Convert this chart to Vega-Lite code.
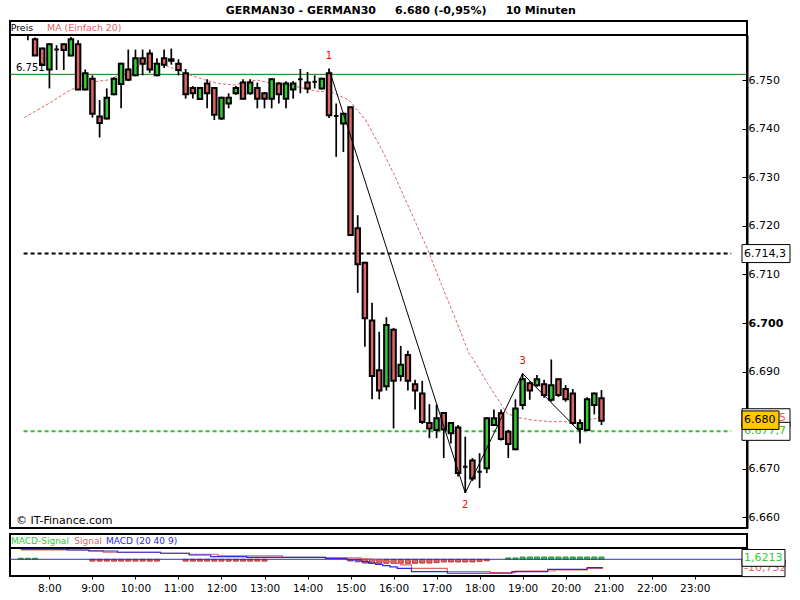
{
  "$schema": "https://vega.github.io/schema/vega-lite/v6.json",
  "background": "white",
  "padding": {"left": 8, "top": 5, "right": 0, "bottom": 0},
  "title": {"text": "GERMAN30 - GERMAN30 \u00a0\u00a0\u00a0 6.680 (-0,95%) \u00a0\u00a0\u00a0 10 Minuten", "font": "DejaVu Sans", "fontSize": 11, "fontWeight": "bold", "color": "black", "anchor": "middle", "offset": 4},
  "config": {"font": "DejaVu Sans", "view": {"stroke": "black", "strokeWidth": 2}},
  "datasets": {
    "candles": [
      {"t":450,"o":6761.0,"h":6762.5,"l":6758.2,"c":6760.0},
      {"t":460,"o":6758.4,"h":6758.8,"l":6755.0,"c":6755.1},
      {"t":470,"o":6756.5,"h":6756.7,"l":6752.9,"c":6753.1},
      {"t":480,"o":6752.2,"h":6757.6,"l":6748.3,"c":6757.4},
      {"t":490,"o":6756.3,"h":6757.2,"l":6752.1,"c":6756.3},
      {"t":500,"o":6757.4,"h":6757.6,"l":6752.1,"c":6756.2},
      {"t":510,"o":6755.1,"h":6758.9,"l":6754.9,"c":6758.4},
      {"t":520,"o":6757.4,"h":6758.2,"l":6747.9,"c":6748.1},
      {"t":530,"o":6748.1,"h":6752.2,"l":6747.9,"c":6751.4},
      {"t":540,"o":6750.3,"h":6751.0,"l":6742.3,"c":6743.1},
      {"t":550,"o":6742.5,"h":6745.9,"l":6738.2,"c":6741.2},
      {"t":560,"o":6742.1,"h":6748.3,"l":6741.9,"c":6746.4},
      {"t":570,"o":6747.1,"h":6750.6,"l":6746.9,"c":6750.3},
      {"t":580,"o":6749.2,"h":6753.6,"l":6744.2,"c":6753.4},
      {"t":590,"o":6752.2,"h":6756.3,"l":6749.8,"c":6750.1},
      {"t":600,"o":6751.0,"h":6756.3,"l":6750.8,"c":6754.5},
      {"t":610,"o":6754.5,"h":6756.3,"l":6751.0,"c":6753.4},
      {"t":620,"o":6755.5,"h":6756.3,"l":6751.5,"c":6752.2},
      {"t":630,"o":6751.0,"h":6754.5,"l":6750.8,"c":6753.4},
      {"t":640,"o":6754.5,"h":6756.3,"l":6752.5,"c":6753.2},
      {"t":650,"o":6754.3,"h":6756.5,"l":6753.2,"c":6754.0},
      {"t":660,"o":6753.4,"h":6754.3,"l":6751.0,"c":6752.1},
      {"t":670,"o":6751.4,"h":6752.3,"l":6746.2,"c":6747.1},
      {"t":680,"o":6748.4,"h":6748.8,"l":6746.2,"c":6747.3},
      {"t":690,"o":6746.1,"h":6748.6,"l":6745.9,"c":6748.4},
      {"t":700,"o":6749.3,"h":6750.2,"l":6744.2,"c":6747.3},
      {"t":710,"o":6748.4,"h":6748.6,"l":6741.8,"c":6742.9},
      {"t":720,"o":6742.1,"h":6746.6,"l":6741.8,"c":6746.4},
      {"t":730,"o":6745.2,"h":6747.3,"l":6744.2,"c":6746.4},
      {"t":740,"o":6747.3,"h":6748.8,"l":6747.0,"c":6748.4},
      {"t":750,"o":6749.5,"h":6750.2,"l":6746.0,"c":6746.2},
      {"t":760,"o":6747.3,"h":6750.2,"l":6747.0,"c":6749.5},
      {"t":770,"o":6748.4,"h":6749.5,"l":6744.2,"c":6746.2},
      {"t":780,"o":6747.3,"h":6747.5,"l":6744.2,"c":6746.2},
      {"t":790,"o":6746.2,"h":6750.4,"l":6744.2,"c":6750.2},
      {"t":800,"o":6749.3,"h":6749.6,"l":6745.2,"c":6747.1},
      {"t":810,"o":6746.2,"h":6749.8,"l":6744.2,"c":6749.3},
      {"t":820,"o":6748.1,"h":6749.8,"l":6746.2,"c":6749.3},
      {"t":830,"o":6750.2,"h":6752.3,"l":6747.3,"c":6750.2},
      {"t":840,"o":6749.5,"h":6751.7,"l":6747.3,"c":6748.3},
      {"t":850,"o":6749.7,"h":6751.0,"l":6748.3,"c":6749.7},
      {"t":860,"o":6748.3,"h":6750.5,"l":6748.1,"c":6750.3},
      {"t":870,"o":6751.4,"h":6752.4,"l":6742.2,"c":6742.8},
      {"t":880,"o":6742.6,"h":6745.2,"l":6734.2,"c":6742.6},
      {"t":890,"o":6741.1,"h":6743.3,"l":6735.2,"c":6743.1},
      {"t":900,"o":6744.4,"h":6744.5,"l":6717.9,"c":6718.1},
      {"t":910,"o":6719.5,"h":6722.2,"l":6706.2,"c":6712.1},
      {"t":920,"o":6712.4,"h":6712.6,"l":6695.1,"c":6701.0},
      {"t":930,"o":6700.5,"h":6704.2,"l":6684.3,"c":6689.1},
      {"t":940,"o":6690.3,"h":6698.2,"l":6684.3,"c":6686.1},
      {"t":950,"o":6687.0,"h":6701.2,"l":6686.1,"c":6699.6},
      {"t":960,"o":6698.6,"h":6699.0,"l":6678.3,"c":6688.1},
      {"t":970,"o":6689.1,"h":6695.3,"l":6688.0,"c":6691.4},
      {"t":980,"o":6693.4,"h":6694.3,"l":6686.1,"c":6688.1},
      {"t":990,"o":6687.4,"h":6688.3,"l":6682.2,"c":6686.1},
      {"t":1000,"o":6685.5,"h":6688.1,"l":6679.2,"c":6679.6},
      {"t":1010,"o":6679.4,"h":6683.3,"l":6676.3,"c":6678.3},
      {"t":1020,"o":6678.0,"h":6683.2,"l":6676.3,"c":6680.4},
      {"t":1030,"o":6681.5,"h":6681.7,"l":6672.2,"c":6678.1},
      {"t":1040,"o":6677.3,"h":6679.6,"l":6675.2,"c":6679.4},
      {"t":1050,"o":6678.5,"h":6679.0,"l":6668.4,"c":6669.1},
      {"t":1060,"o":6670.4,"h":6676.6,"l":6665.0,"c":6670.4},
      {"t":1070,"o":6671.7,"h":6672.2,"l":6667.5,"c":6668.0},
      {"t":1080,"o":6669.4,"h":6673.2,"l":6666.0,"c":6669.4},
      {"t":1090,"o":6670.1,"h":6680.6,"l":6669.1,"c":6680.4},
      {"t":1100,"o":6679.0,"h":6682.2,"l":6678.8,"c":6680.4},
      {"t":1110,"o":6681.4,"h":6682.2,"l":6675.8,"c":6676.1},
      {"t":1120,"o":6677.6,"h":6678.0,"l":6672.2,"c":6675.1},
      {"t":1130,"o":6674.0,"h":6684.3,"l":6673.8,"c":6682.4},
      {"t":1140,"o":6683.1,"h":6689.6,"l":6682.2,"c":6688.4},
      {"t":1150,"o":6687.6,"h":6688.0,"l":6684.2,"c":6686.1},
      {"t":1160,"o":6687.2,"h":6689.3,"l":6686.9,"c":6688.4},
      {"t":1170,"o":6687.4,"h":6688.3,"l":6684.6,"c":6685.2},
      {"t":1180,"o":6684.2,"h":6692.5,"l":6683.8,"c":6687.2},
      {"t":1190,"o":6688.4,"h":6688.6,"l":6684.8,"c":6685.2},
      {"t":1200,"o":6686.4,"h":6687.2,"l":6683.8,"c":6684.3},
      {"t":1210,"o":6685.5,"h":6686.4,"l":6679.0,"c":6679.4},
      {"t":1220,"o":6678.2,"h":6680.2,"l":6675.2,"c":6679.4},
      {"t":1230,"o":6678.0,"h":6684.7,"l":6677.8,"c":6684.3},
      {"t":1240,"o":6683.1,"h":6685.7,"l":6681.2,"c":6685.5},
      {"t":1250,"o":6684.5,"h":6686.2,"l":6679.0,"c":6679.9}
    ],
    "ma": [
      {"t":445,"p":6742.3},{"t":478,"p":6745.1},{"t":505,"p":6747.6},{"t":517,"p":6748.5},
      {"t":538,"p":6749.6},{"t":565,"p":6750.1},{"t":588,"p":6752.2},{"t":615,"p":6753.4},
      {"t":634,"p":6753.4},{"t":657,"p":6752.2},{"t":674,"p":6751.2},{"t":698,"p":6750.0},
      {"t":716,"p":6749.3},{"t":739,"p":6749.0},{"t":753,"p":6749.7},{"t":771,"p":6750.0},
      {"t":790,"p":6749.3},{"t":813,"p":6749.0},{"t":836,"p":6748.3},{"t":854,"p":6747.7},
      {"t":872,"p":6747.6},{"t":898,"p":6745.9},{"t":921,"p":6741.8},{"t":944,"p":6735.6},
      {"t":960,"p":6730.8},{"t":985,"p":6722.6},{"t":1008,"p":6715.0},{"t":1026,"p":6708.2},
      {"t":1049,"p":6699.9},{"t":1065,"p":6693.8},{"t":1072,"p":6692.4},{"t":1091,"p":6687.6},
      {"t":1109,"p":6683.5},{"t":1118,"p":6681.4},{"t":1132,"p":6680.6},{"t":1155,"p":6680.0},
      {"t":1178,"p":6679.7},{"t":1201,"p":6679.7},{"t":1219,"p":6679.8},{"t":1237,"p":6680.2},
      {"t":1251,"p":6680.6}
    ],
    "zig": [
      {"t":870,"p":6752.3,"lab":"1"},
      {"t":1060,"p":6665.0,"lab":"2"},
      {"t":1140,"p":6689.6,"lab":"3"},
      {"t":1220,"p":6677.6,"lab":""}
    ],
    "levels": [
      {"name":"res","p":6751.2,"label":"6.751"},
      {"name":"mid","p":6714.3,"label":"6.714,3"},
      {"name":"sup","p":6677.7,"label":"6.677,7"}
    ],
    "last": [
      {"name":"ma","p":6680.5,"label":"6.680,5"},
      {"name":"price","p":6680.0,"label":"6.680"}
    ],
    "macd": [
      {"t":440,"v":12.0},{"t":505,"v":11.1},{"t":535,"v":9.9},{"t":575,"v":8.4},
      {"t":635,"v":7.2},{"t":675,"v":5.1},{"t":705,"v":3.1},{"t":755,"v":2.4},
      {"t":865,"v":1.2},{"t":895,"v":-0.8},{"t":915,"v":-2.9},{"t":925,"v":-4.5},
      {"t":935,"v":-6.0},{"t":945,"v":-7.5},{"t":955,"v":-9.0},{"t":965,"v":-10.8},
      {"t":985,"v":-14.8},{"t":1035,"v":-16.7},{"t":1125,"v":-14.8},{"t":1175,"v":-12.0},
      {"t":1230,"v":-10.0},{"t":1252,"v":-10.0}
    ],
    "signal": [
      {"t":440,"v":11.1},{"t":535,"v":10.3},{"t":555,"v":8.4},{"t":635,"v":7.2},
      {"t":675,"v":6.0},{"t":715,"v":4.0},{"t":805,"v":2.4},{"t":865,"v":1.6},
      {"t":915,"v":0.5},{"t":930,"v":-1.0},{"t":945,"v":-3.0},{"t":960,"v":-5.0},
      {"t":970,"v":-6.8},{"t":985,"v":-10.8},{"t":1035,"v":-14.8},{"t":1095,"v":-16.0},
      {"t":1130,"v":-14.0},{"t":1185,"v":-12.8},{"t":1230,"v":-10.8},{"t":1252,"v":-10.8}
    ],
    "hist": [
      {"t":440,"h":1.2},{"t":450,"h":1.2},{"t":460,"h":1.2},
      {"t":540,"h":-2.2},{"t":550,"h":-2.2},{"t":560,"h":-2.2},{"t":570,"h":-2.2},{"t":580,"h":-2.2},
      {"t":590,"h":-2.2},{"t":600,"h":-2.2},{"t":610,"h":-2.2},{"t":620,"h":-2.2},{"t":630,"h":-2.2},
      {"t":670,"h":-2.2},{"t":680,"h":-2.2},{"t":690,"h":-2.2},{"t":700,"h":-2.2},{"t":710,"h":-2.2},
      {"t":720,"h":-2.2},{"t":730,"h":-2.2},{"t":740,"h":-2.2},{"t":750,"h":-2.2},{"t":760,"h":-2.2},
      {"t":770,"h":-2.2},{"t":780,"h":-2.2},
      {"t":900,"h":-2.0},{"t":910,"h":-3.0},{"t":920,"h":-4.5},{"t":930,"h":-4.8},{"t":940,"h":-4.8},
      {"t":950,"h":-4.8},{"t":960,"h":-4.8},{"t":970,"h":-4.8},{"t":980,"h":-4.8},{"t":990,"h":-4.8},
      {"t":1000,"h":-4.5},{"t":1010,"h":-4.5},{"t":1020,"h":-4.0},{"t":1030,"h":-3.2},{"t":1040,"h":-3.2},
      {"t":1050,"h":-3.2},{"t":1060,"h":-3.2},{"t":1070,"h":-3.2},{"t":1080,"h":-2.5},{"t":1090,"h":-1.8},
      {"t":1120,"h":1.6},{"t":1130,"h":1.6},{"t":1140,"h":2.7},{"t":1150,"h":2.7},{"t":1160,"h":2.7},
      {"t":1170,"h":2.7},{"t":1180,"h":2.7},{"t":1190,"h":2.7},{"t":1200,"h":2.7},{"t":1210,"h":2.7},
      {"t":1220,"h":2.7},{"t":1230,"h":2.7},{"t":1240,"h":2.7},{"t":1250,"h":2.7}
    ],
    "macdlast": [
      {"name":"signal","v":-10.752,"label":"-10,752"},
      {"name":"hist","v":1.6213,"label":"1,6213"}
    ]
  },
  "spacing": 4,
  "vconcat": [
    {
      "bounds": "flush",
      "spacing": 0,
      "vconcat": [
        {
          "width": 737, "height": 14,
          "data": {"values": [{}]},
          "layer": [
            {"mark": {"type": "text", "text": "Preis", "align": "left", "baseline": "middle", "fontSize": 9.4, "color": "black"},
             "encoding": {"x": {"datum": 433, "type": "quantitative", "scale": {"domain": [432, 1446], "nice": false, "zero": false}, "axis": null}}},
            {"mark": {"type": "text", "text": "MA (Einfach 20)", "align": "left", "baseline": "middle", "fontSize": 9.4, "color": "#e06666"},
             "encoding": {"x": {"datum": 483, "type": "quantitative", "axis": null}}}
          ]
        },
        {
          "width": 737, "height": 493,
          "layer": [
            {
              "data": {"name": "levels"},
              "transform": [{"filter": "datum.name == 'res'"}],
              "mark": {"type": "rule", "color": "#008000", "strokeWidth": 1},
              "encoding": {
                "y": {"field": "p", "type": "quantitative",
                      "scale": {"domain": [6657.8, 6759.3], "nice": false, "zero": false},
                      "axis": {"orient": "right", "values": [6660, 6670, 6680, 6690, 6700, 6710, 6720, 6730, 6740, 6750],
                               "labelExpr": "replace(format(datum.value, ','), ',', '.')",
                               "title": null, "grid": false, "domain": true, "domainColor": "black", "domainWidth": 2,
                               "ticks": true, "tickSize": -5, "tickColor": "black", "tickWidth": 1,
                               "labelPadding": 6, "labelFontSize": 11, "labelColor": "black",
                               "labelFontWeight": {"condition": {"test": "datum.value == 6700", "value": "bold"}, "value": "normal"},
                               "labelFlush": false, "labelOverlap": false}}
              }
            },
            {
              "data": {"name": "levels"},
              "transform": [{"filter": "datum.name != 'res'"}],
              "mark": {"type": "rule", "strokeWidth": 2, "strokeDash": [4, 3]},
              "encoding": {
                "y": {"field": "p", "type": "quantitative"},
                "x": {"datum": 444, "type": "quantitative", "scale": {"domain": [432, 1446], "nice": false, "zero": false}, "axis": null},
                "x2": {"datum": 1431},
                "stroke": {"condition": {"test": "datum.name == 'mid'", "value": "black"}, "value": "#33bb33"}
              }
            },
            {
              "data": {"name": "ma"},
              "mark": {"type": "line", "color": "#e06666", "strokeWidth": 1, "strokeDash": [3, 2]},
              "encoding": {
                "x": {"field": "t", "type": "quantitative", "axis": null},
                "y": {"field": "p", "type": "quantitative"}
              }
            },
            {
              "data": {"name": "candles"},
              "mark": {"type": "rule", "color": "black", "strokeWidth": 1.7, "clip": true},
              "encoding": {
                "x": {"field": "t", "type": "quantitative", "axis": null},
                "y": {"field": "l", "type": "quantitative"},
                "y2": {"field": "h"}
              }
            },
            {
              "data": {"name": "candles"},
              "mark": {"type": "bar", "width": 4.5, "stroke": "black", "strokeWidth": 2, "clip": true},
              "encoding": {
                "x": {"field": "t", "type": "quantitative", "axis": null},
                "y": {"field": "o", "type": "quantitative"},
                "y2": {"field": "c"},
                "fill": {"condition": {"test": "datum.c >= datum.o", "value": "#33cc33"}, "value": "#e06666"}
              }
            },
            {
              "data": {"name": "zig"},
              "mark": {"type": "line", "color": "black", "strokeWidth": 1},
              "encoding": {
                "x": {"field": "t", "type": "quantitative", "axis": null},
                "y": {"field": "p", "type": "quantitative"}
              }
            },
            {
              "data": {"name": "zig"},
              "transform": [{"filter": "datum.lab == '1' || datum.lab == '3'"}],
              "mark": {"type": "text", "color": "#ff0000", "fontSize": 10, "baseline": "middle", "dy": -13},
              "encoding": {
                "x": {"field": "t", "type": "quantitative", "axis": null},
                "y": {"field": "p", "type": "quantitative"},
                "text": {"field": "lab"}
              }
            },
            {
              "data": {"name": "zig"},
              "transform": [{"filter": "datum.lab == '2'"}],
              "mark": {"type": "text", "color": "#ff0000", "fontSize": 10, "baseline": "middle", "dy": 12},
              "encoding": {
                "x": {"field": "t", "type": "quantitative", "axis": null},
                "y": {"field": "p", "type": "quantitative"},
                "text": {"field": "lab"}
              }
            },
            {
              "data": {"name": "levels"},
              "transform": [{"filter": "datum.name == 'res'"}],
              "mark": {"type": "text", "align": "left", "baseline": "bottom", "dx": 1, "dy": -1, "fontSize": 10, "color": "black"},
              "encoding": {
                "x": {"datum": 432, "type": "quantitative", "axis": null},
                "y": {"field": "p", "type": "quantitative"},
                "text": {"field": "label"}
              }
            },
            {
              "data": {"values": [{"txt": "\u00a9 IT-Finance.com"}]},
              "mark": {"type": "text", "align": "left", "baseline": "bottom", "dx": 1, "dy": -2, "fontSize": 11, "color": "black"},
              "encoding": {
                "x": {"datum": 432, "type": "quantitative", "axis": null},
                "y": {"datum": 6657.8, "type": "quantitative"},
                "text": {"field": "txt"}
              }
            },
            {
              "data": {"name": "last"},
              "transform": [{"filter": "datum.name == 'ma'"}],
              "mark": {"type": "point", "shape": "M0,-0.375L2,-0.375L2,0.375L0,0.375Z", "size": 2304, "filled": true, "fill": "white", "stroke": "black", "strokeWidth": 1, "opacity": 1, "clip": false},
              "encoding": {
                "x": {"datum": 1446, "type": "quantitative", "axis": null},
                "y": {"field": "p", "type": "quantitative"}
              }
            },
            {
              "data": {"name": "last"},
              "transform": [{"filter": "datum.name == 'ma'"}],
              "mark": {"type": "text", "align": "left", "baseline": "middle", "dx": 2, "fontSize": 11, "color": "#e06666"},
              "encoding": {
                "x": {"datum": 1446, "type": "quantitative", "axis": null},
                "y": {"field": "p", "type": "quantitative"},
                "text": {"field": "label"}
              }
            },
            {
              "data": {"name": "levels"},
              "transform": [{"filter": "datum.name != 'res'"}],
              "mark": {"type": "point", "shape": "M0,-0.375L2,-0.375L2,0.375L0,0.375Z", "size": 2304, "filled": true, "fill": "white", "stroke": "black", "strokeWidth": 1, "opacity": 1, "clip": false},
              "encoding": {
                "x": {"datum": 1446, "type": "quantitative", "axis": null},
                "y": {"field": "p", "type": "quantitative"}
              }
            },
            {
              "data": {"name": "levels"},
              "transform": [{"filter": "datum.name != 'res'"}],
              "mark": {"type": "text", "align": "left", "baseline": "middle", "dx": 2, "fontSize": 11},
              "encoding": {
                "x": {"datum": 1446, "type": "quantitative", "axis": null},
                "y": {"field": "p", "type": "quantitative"},
                "text": {"field": "label"},
                "fill": {"condition": {"test": "datum.name == 'mid'", "value": "black"}, "value": "#33bb33"}
              }
            },
            {
              "data": {"name": "last"},
              "transform": [{"filter": "datum.name == 'price'"}],
              "mark": {"type": "point", "shape": "M0,-0.5L2,-0.5L2,0.5L0,0.5Z", "size": 1369, "filled": true, "fill": "#ffc800", "stroke": "black", "strokeWidth": 1, "opacity": 1, "clip": false},
              "encoding": {
                "x": {"datum": 1446, "type": "quantitative", "axis": null},
                "y": {"field": "p", "type": "quantitative"}
              }
            },
            {
              "data": {"name": "last"},
              "transform": [{"filter": "datum.name == 'price'"}],
              "mark": {"type": "text", "align": "left", "baseline": "middle", "dx": 2, "fontSize": 11, "color": "black"},
              "encoding": {
                "x": {"datum": 1446, "type": "quantitative", "axis": null},
                "y": {"field": "p", "type": "quantitative"},
                "text": {"field": "label"}
              }
            }
          ]
        }
      ]
    },
    {
      "bounds": "flush",
      "spacing": 0,
      "vconcat": [
        {
          "width": 737, "height": 14,
          "data": {"values": [{}]},
          "layer": [
            {"mark": {"type": "text", "text": "MACD-Signal", "align": "left", "baseline": "middle", "fontSize": 9, "color": "#33cc33"},
             "encoding": {"x": {"datum": 433.4, "type": "quantitative", "scale": {"domain": [432, 1446], "nice": false, "zero": false}, "axis": null}}},
            {"mark": {"type": "text", "text": "Signal", "align": "left", "baseline": "middle", "fontSize": 9, "color": "#e06666"},
             "encoding": {"x": {"datum": 520.5, "type": "quantitative", "axis": null}}},
            {"mark": {"type": "text", "text": "MACD (20 40 9)", "align": "left", "baseline": "middle", "fontSize": 9, "color": "#2a2ae6"},
             "encoding": {"x": {"datum": 564, "type": "quantitative", "axis": null}}}
          ]
        },
        {
          "width": 737, "height": 28,
          "layer": [
            {
              "data": {"name": "hist"},
              "mark": {"type": "bar", "width": 5, "strokeWidth": 1},
              "encoding": {
                "x": {"field": "t", "type": "quantitative",
                      "scale": {"domain": [432, 1446], "nice": false, "zero": false},
                      "axis": {"values": [480, 540, 600, 660, 720, 780, 840, 900, 960, 1020, 1080, 1140, 1200, 1260, 1320, 1380],
                               "labelExpr": "floor(datum.value / 60) + ':00'", "title": null, "grid": false, "domain": false,
                               "ticks": true, "tickSize": 3, "tickColor": "black", "labelFontSize": 10.5, "labelColor": "black",
                               "labelPadding": 4, "labelFlush": false, "labelOverlap": false}},
                "y": {"field": "h", "type": "quantitative",
                      "scale": {"domain": [-20, 13.5], "nice": false, "zero": false},
                      "axis": {"orient": "right", "values": [-10, 10], "labels": false, "title": null, "grid": false,
                               "domainColor": "black", "domainWidth": 2, "tickSize": -5, "tickColor": "black"}},
                "y2": {"datum": 0},
                "fill": {"condition": {"test": "datum.h >= 0", "value": "#44cc44"}, "value": "#e06666"},
                "stroke": {"condition": {"test": "datum.h >= 0", "value": "#229922"}, "value": "#b03838"}
              }
            },
            {
              "data": {"values": [{"z": 0}]},
              "mark": {"type": "rule", "color": "#2a2ae6", "strokeWidth": 1},
              "encoding": {"y": {"field": "z", "type": "quantitative"}}
            },
            {
              "data": {"name": "signal"},
              "mark": {"type": "line", "color": "#e06666", "strokeWidth": 1.2, "interpolate": "step-after"},
              "encoding": {
                "x": {"field": "t", "type": "quantitative"},
                "y": {"field": "v", "type": "quantitative"}
              }
            },
            {
              "data": {"name": "macd"},
              "mark": {"type": "line", "color": "#2a2ae6", "strokeWidth": 1.2, "interpolate": "step-after"},
              "encoding": {
                "x": {"field": "t", "type": "quantitative"},
                "y": {"field": "v", "type": "quantitative"}
              }
            },
            {
              "data": {"name": "macdlast"},
              "transform": [{"filter": "datum.name == 'signal'"}],
              "mark": {"type": "point", "shape": "M0,-0.39L2,-0.39L2,0.39L0,0.39Z", "size": 1849, "filled": true, "fill": "white", "stroke": "black", "strokeWidth": 1, "opacity": 1, "clip": false},
              "encoding": {
                "x": {"datum": 1446, "type": "quantitative"},
                "y": {"field": "v", "type": "quantitative"}
              }
            },
            {
              "data": {"name": "macdlast"},
              "transform": [{"filter": "datum.name == 'signal'"}],
              "mark": {"type": "text", "align": "left", "baseline": "middle", "dx": 2, "fontSize": 11, "color": "#e06666"},
              "encoding": {
                "x": {"datum": 1446, "type": "quantitative"},
                "y": {"field": "v", "type": "quantitative"},
                "text": {"field": "label"}
              }
            },
            {
              "data": {"name": "macdlast"},
              "transform": [{"filter": "datum.name == 'hist'"}],
              "mark": {"type": "point", "shape": "M0,-0.39L2,-0.39L2,0.39L0,0.39Z", "size": 1849, "filled": true, "fill": "white", "stroke": "black", "strokeWidth": 1, "opacity": 1, "clip": false},
              "encoding": {
                "x": {"datum": 1446, "type": "quantitative"},
                "y": {"field": "v", "type": "quantitative"}
              }
            },
            {
              "data": {"name": "macdlast"},
              "transform": [{"filter": "datum.name == 'hist'"}],
              "mark": {"type": "text", "align": "left", "baseline": "middle", "dx": 2, "fontSize": 11, "color": "#33cc33"},
              "encoding": {
                "x": {"datum": 1446, "type": "quantitative"},
                "y": {"field": "v", "type": "quantitative"},
                "text": {"field": "label"}
              }
            }
          ]
        }
      ]
    }
  ]
}
